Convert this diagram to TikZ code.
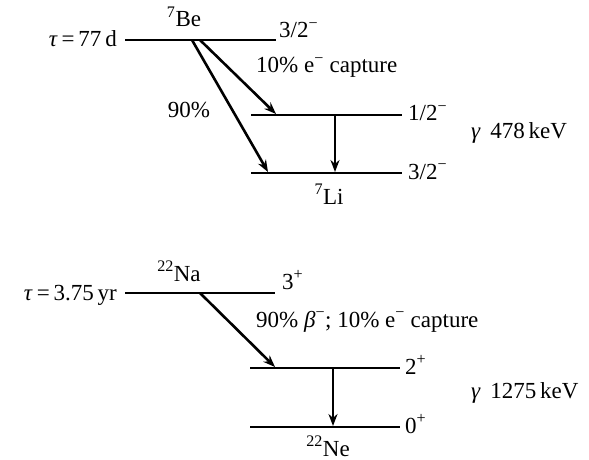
\documentclass[tikz,border=0pt]{standalone}
\usepackage{fontspec}
\setmainfont{Liberation Serif}
\usetikzlibrary{arrows.meta}
\newcommand{\mns}{\textsuperscript{\char"2212}}
\begin{document}
\begin{tikzpicture}[x=1pt,y=-1pt,
  level/.style={line width=2.8pt},
  decay/.style={line width=2.6pt,-{Stealth[length=12pt,width=9pt]}},
  lbl/.style={inner sep=0pt,font=\fontsize{23}{27}\selectfont},
]
\useasboundingbox (0,0) rectangle (589,460);
% 7Be scheme
\coordinate (beL) at (125,40); \coordinate (beR) at (276,40);
\coordinate (liaL) at (251,115); \coordinate (liaR) at (402,115);
\coordinate (ligL) at (251,173); \coordinate (ligR) at (402,173);
\draw[level] (beL) -- (beR);
\draw[level] (liaL) -- (liaR);
\draw[level] (ligL) -- (ligR);
\coordinate (be1) at (192,40); \coordinate (be2) at (200,40);
\coordinate (lig1) at (268,172); \coordinate (lia1) at (276,114);
\coordinate (gaT) at (335,115); \coordinate (gaB) at (335,172);
\draw[decay] (be1) -- (lig1);
\draw[decay] (be2) -- (lia1);
\draw[decay] (gaT) -- (gaB);
\node[lbl,anchor=base east] (tauBe) at (117,47) {\textit{τ}\,=\,77\,d};
\node[lbl,anchor=base] (nBe) at (184,27) {\textsuperscript{7}Be};
\node[lbl,anchor=base west] (jBe) at (279,38) {3/2\mns};
\node[lbl,anchor=base west] (ecBe) at (256,73) {10\% e\mns\ capture};
\node[lbl,anchor=base] (p90) at (189,117) {90\%};
\node[lbl,anchor=base west] (jLia) at (408,121) {1/2\mns};
\node[lbl,anchor=base west] (jLig) at (408,179) {3/2\mns};
\node[lbl,anchor=base] (nLi) at (329,204) {\textsuperscript{7}Li};
\node[lbl,anchor=base west] (gLi) at (471,138) {\textit{γ}\, 478\,keV};
% 22Na scheme
\coordinate (naL) at (125,293); \coordinate (naR) at (275,293);
\coordinate (neaL) at (250,368); \coordinate (neaR) at (400,368);
\coordinate (negL) at (250,427); \coordinate (negR) at (400,427);
\draw[level] (naL) -- (naR);
\draw[level] (neaL) -- (neaR);
\draw[level] (negL) -- (negR);
\coordinate (na1) at (200,293); \coordinate (nea1) at (275,367);
\coordinate (gnT) at (333,368); \coordinate (gnB) at (333,426);
\draw[decay] (na1) -- (nea1);
\draw[decay] (gnT) -- (gnB);
\node[lbl,anchor=base east] (tauNa) at (117,300) {\textit{τ}\,=\,3.75\,yr};
\node[lbl,anchor=base] (nNa) at (179,281) {\textsuperscript{22}Na};
\node[lbl,anchor=base west] (jNa) at (282,289) {3\textsuperscript{+}};
\node[lbl,anchor=base west] (ecNa) at (256,327) {90\% \textit{β}\mns; 10\% e\mns\ capture};
\node[lbl,anchor=base west] (jNea) at (405,374) {2\textsuperscript{+}};
\node[lbl,anchor=base west] (jNeg) at (405,433) {0\textsuperscript{+}};
\node[lbl,anchor=base] (nNe) at (328,456) {\textsuperscript{22}Ne};
\node[lbl,anchor=base west] (gNe) at (471,398) {\textit{γ}\, 1275\,keV};
\end{tikzpicture}
\end{document}
